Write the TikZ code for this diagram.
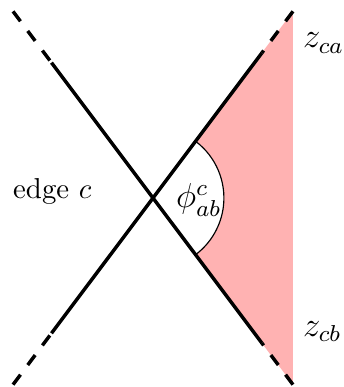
\documentclass[tikz,border=0pt]{standalone}
\begin{document}
\begin{tikzpicture}[scale=1.138, edgeln/.style={very thick}, dashln/.style={very thick, dash pattern=on 4.3pt off 4.2pt}]
        \useasboundingbox (-1.64,-2.026) rectangle (2.047,2.122);
        \coordinate (O) at (0,0);
        \coordinate (tl) at (-1.5,2);
        \coordinate (bl) at (-1.5,-2);
        \coordinate (tr) at (1.5,2);
        \coordinate (br) at (1.5,-2);
        \coordinate (tls) at (-1.088,1.45);
        \coordinate (bls) at (-1.088,-1.45);
        \coordinate (trs) at (1.166,1.554);
        \coordinate (brs) at (1.166,-1.554);
        % shaded wedge with the angle cut out
        \fill[red!30] (O) -- (tr) -- (br) -- cycle;
        \fill[white] (O) -- (53.13:0.76) arc[start angle=53.13, end angle=-53.13, radius=0.76] -- cycle;
        \draw (53.13:0.76) arc[start angle=53.13, end angle=-53.13, radius=0.76];
        \draw[edgeln] (tls) -- (brs);
        \draw[edgeln] (bls) -- (trs);
        \foreach \a/\b in {tl/tls, bl/bls, tr/trs, br/brs} {\draw[dashln] (\a) -- (\b);}
        \node (phi) at (0.49,-0.02) {\large $\phi^c_{ab}$};
        \node (edge) at (-1.08,0.07) {edge $c$};
        \node[right] (zca) at (1.5,1.66) {\large $z_{ca}$};
        \node[right] (zcb) at (1.5,-1.43) {\large $z_{cb}$};
      \end{tikzpicture}
\end{document}
